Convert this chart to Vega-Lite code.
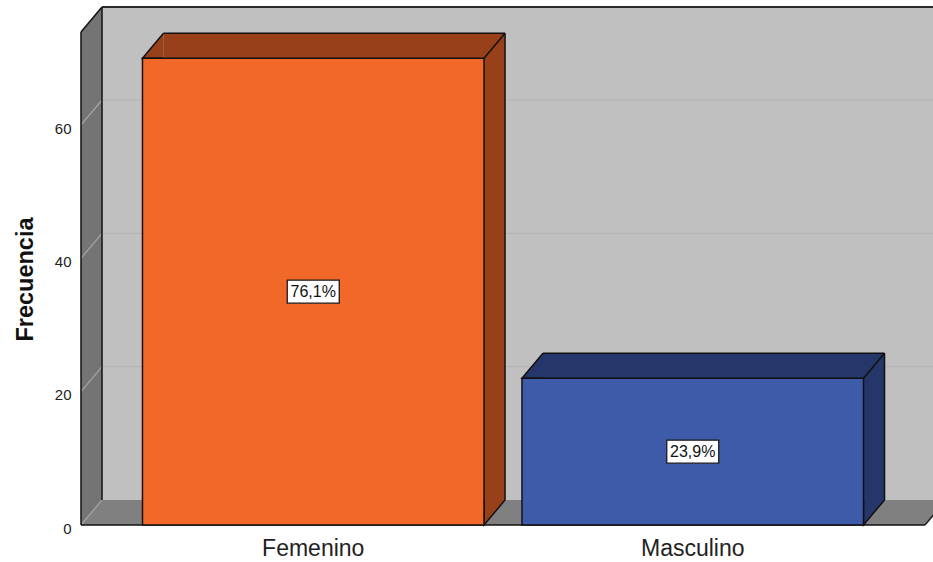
{
  "$schema": "https://vega.github.io/schema/vega-lite/v6.json",
  "width": 844,
  "height": 518,
  "autosize": {"type": "none"},
  "padding": {"left": 81, "top": 7, "right": 8, "bottom": 37},
  "background": "white",
  "config": {
    "font": "Liberation Sans",
    "view": {"stroke": null},
    "locale": {"number": {"decimal": ",", "thousands": ".", "grouping": [3], "currency": ["", " €"]}}
  },
  "datasets": {
    "frecuencias": [
      {"sexo": "Femenino", "n": 70, "porcentaje": 0.761},
      {"sexo": "Masculino", "n": 22, "porcentaje": 0.239}
    ],
    "marcas": [{"v": 0}, {"v": 20}, {"v": 40}, {"v": 60}],
    "uno": [{}]
  },
  "layer": [
    {
      "layer": [
        {
          "data": {"name": "frecuencias"},
          "mark": {"type": "bar", "opacity": 0},
          "encoding": {
            "x": {
              "field": "sexo",
              "type": "nominal",
              "scale": {"paddingInner": 0.1, "paddingOuter": 0.162},
              "axis": {"title": null, "domain": false, "ticks": false, "tickSize": 0, "labelPadding": 12, "labelFontSize": 23, "labelColor": "#222222", "labelAngle": 0}
            },
            "y": {
              "field": "n",
              "type": "quantitative",
              "scale": {"domain": [0, 77.7], "nice": false, "zero": true},
              "axis": {"title": "Frecuencia", "values": [0, 20, 40, 60], "grid": false, "domain": false, "ticks": false, "tickSize": 0, "labelPadding": 10, "labelOffset": 3, "labelFontSize": 15, "labelColor": "#222222", "titleFontSize": 23.5, "titleFontWeight": "bold", "titleColor": "#111111", "titleX": -49, "titleY": 272, "titleAngle": -90, "titleAlign": "center", "titleBaseline": "alphabetic"}
            }
          }
        },
        {
          "data": {"name": "uno"},
          "mark": {"type": "rect", "fill": "#747474"},
          "encoding": {
            "x": {"value": 0},
            "x2": {"value": "width"},
            "y": {"datum": 0, "type": "quantitative"},
            "y2": {"datum": 73.95}
          }
        },
        {
          "data": {"name": "uno"},
          "mark": {"type": "point", "shape": "M0,0L21,0L21,-25Z", "size": 4, "filled": true, "fill": "#747474", "strokeWidth": 0, "opacity": 1},
          "encoding": {
            "x": {"value": 0},
            "y": {"datum": 73.95, "type": "quantitative"}
          }
        },
        {
          "data": {"name": "uno"},
          "mark": {"type": "rect", "fill": "#c0c0c0", "xOffset": 21, "x2Offset": 21, "yOffset": -25, "y2Offset": -25},
          "encoding": {
            "x": {"value": 0},
            "x2": {"value": "width"},
            "y": {"datum": 0, "type": "quantitative"},
            "y2": {"datum": 73.95}
          }
        },
        {
          "data": {"name": "uno"},
          "mark": {"type": "rect", "fill": "#808080", "y2Offset": -25},
          "encoding": {
            "x": {"value": 0},
            "x2": {"value": "width"},
            "y": {"datum": 0, "type": "quantitative"},
            "y2": {"datum": 0}
          }
        },
        {
          "data": {"name": "uno"},
          "mark": {"type": "point", "shape": "M0,0L0,-25L21,-25Z", "size": 4, "filled": true, "fill": "#747474", "strokeWidth": 0, "opacity": 1},
          "encoding": {
            "x": {"value": 0},
            "y": {"datum": 0, "type": "quantitative"}
          }
        },
        {
          "data": {"name": "uno"},
          "mark": {"type": "point", "shape": "M0,0L0,-25L21,-25Z", "size": 4, "filled": true, "fill": "#808080", "strokeWidth": 0, "opacity": 1},
          "encoding": {
            "x": {"value": "width"},
            "y": {"datum": 0, "type": "quantitative"}
          }
        },
        {
          "data": {"name": "marcas"},
          "transform": [{"filter": "datum.v > 0"}],
          "mark": {"type": "rule", "stroke": "#b3b3b3", "strokeWidth": 1, "xOffset": 21, "x2Offset": 21, "yOffset": -25, "y2Offset": -25},
          "encoding": {
            "x": {"value": 0},
            "x2": {"value": "width"},
            "y": {"field": "v", "type": "quantitative"},
            "y2": {"field": "v"}
          }
        },
        {
          "data": {"name": "marcas"},
          "mark": {"type": "point", "shape": "M0,0L21,-25", "size": 4, "filled": false, "stroke": "#a6a6a6", "strokeWidth": 1.2, "opacity": 1},
          "encoding": {
            "x": {"value": 0},
            "y": {"field": "v", "type": "quantitative"}
          }
        },
        {
          "data": {"name": "uno"},
          "mark": {"type": "rule", "stroke": "#111111", "strokeWidth": 1.5},
          "encoding": {
            "x": {"value": 0},
            "y": {"datum": 0, "type": "quantitative"},
            "y2": {"datum": 73.95}
          }
        },
        {
          "data": {"name": "uno"},
          "mark": {"type": "rule", "stroke": "#111111", "strokeWidth": 1.5, "xOffset": 21, "yOffset": -25, "y2Offset": -25},
          "encoding": {
            "x": {"value": 0},
            "y": {"datum": 0, "type": "quantitative"},
            "y2": {"datum": 73.95}
          }
        },
        {
          "data": {"name": "uno"},
          "mark": {"type": "rule", "stroke": "#2a2a2a", "strokeWidth": 2, "xOffset": 21, "x2Offset": 21, "yOffset": -25, "y2Offset": -25},
          "encoding": {
            "x": {"value": 0},
            "x2": {"value": "width"},
            "y": {"datum": 73.95, "type": "quantitative"},
            "y2": {"datum": 73.95}
          }
        },
        {
          "data": {"name": "uno"},
          "mark": {"type": "point", "shape": "M0,0L21,-25", "size": 4, "filled": false, "stroke": "#111111", "strokeWidth": 1.5, "opacity": 1},
          "encoding": {
            "x": {"value": 0},
            "y": {"datum": 73.95, "type": "quantitative"}
          }
        },
        {
          "data": {"name": "uno"},
          "mark": {"type": "rule", "stroke": "#111111", "strokeWidth": 1.5},
          "encoding": {
            "x": {"value": 0},
            "x2": {"value": "width"},
            "y": {"datum": 0, "type": "quantitative"},
            "y2": {"datum": 0}
          }
        },
        {
          "data": {"name": "uno"},
          "mark": {"type": "point", "shape": "M0,0L21,-25", "size": 4, "filled": false, "stroke": "#222222", "strokeWidth": 1.5, "opacity": 1},
          "encoding": {
            "x": {"value": "width"},
            "y": {"datum": 0, "type": "quantitative"}
          }
        },
        {
          "data": {"name": "frecuencias"},
          "mark": {"type": "bar", "xOffset": 21, "yOffset": -25, "y2Offset": -25},
          "encoding": {
            "x": {"field": "sexo", "type": "nominal"},
            "y": {"field": "n", "type": "quantitative"},
            "y2": {"datum": 0},
            "color": {"field": "sexo", "type": "nominal", "legend": null, "scale": {"domain": ["Femenino", "Masculino"], "range": ["#984019", "#25366a"]}}
          }
        },
        {
          "data": {"name": "frecuencias"},
          "mark": {"type": "point", "shape": "M21,-25L0,0L21,0", "size": 4, "filled": true, "stroke": "#111111", "strokeWidth": 1.5, "opacity": 1},
          "encoding": {
            "x": {"field": "sexo", "type": "nominal", "bandPosition": 0},
            "y": {"field": "n", "type": "quantitative"},
            "color": {"field": "sexo", "type": "nominal", "legend": null, "scale": {"domain": ["Femenino", "Masculino"], "range": ["#984019", "#25366a"]}}
          }
        },
        {
          "data": {"name": "frecuencias"},
          "mark": {"type": "point", "shape": "M0,-25L0,0L21,-25", "size": 4, "filled": true, "stroke": "#111111", "strokeWidth": 1.5, "opacity": 1},
          "encoding": {
            "x": {"field": "sexo", "type": "nominal", "bandPosition": 1},
            "y": {"datum": 0, "type": "quantitative"},
            "color": {"field": "sexo", "type": "nominal", "legend": null, "scale": {"domain": ["Femenino", "Masculino"], "range": ["#984019", "#25366a"]}}
          }
        },
        {
          "data": {"name": "frecuencias"},
          "mark": {"type": "bar", "stroke": "#111111", "strokeWidth": 1.5},
          "encoding": {
            "x": {"field": "sexo", "type": "nominal"},
            "y": {"field": "n", "type": "quantitative"},
            "fill": {"field": "sexo", "type": "nominal", "legend": null, "scale": {"domain": ["Femenino", "Masculino"], "range": ["#f26829", "#3e5ba9"]}}
          }
        },
        {
          "data": {"name": "frecuencias"},
          "mark": {"type": "bar", "fillOpacity": 0, "stroke": "#111111", "strokeWidth": 1.5, "xOffset": 21, "yOffset": -25, "y2Offset": -25},
          "encoding": {
            "x": {"field": "sexo", "type": "nominal"},
            "y": {"field": "n", "type": "quantitative"},
            "y2": {"field": "n"}
          }
        },
        {
          "data": {"name": "frecuencias"},
          "mark": {"type": "rule", "stroke": "#111111", "strokeWidth": 1.5, "xOffset": 21, "yOffset": -25, "y2Offset": -25},
          "encoding": {
            "x": {"field": "sexo", "type": "nominal", "bandPosition": 1},
            "y": {"field": "n", "type": "quantitative"},
            "y2": {"datum": 0}
          }
        },
        {
          "data": {"name": "frecuencias"},
          "mark": {"type": "point", "shape": "M0,0L21,-25", "size": 4, "filled": false, "stroke": "#111111", "strokeWidth": 1.5, "opacity": 1},
          "encoding": {
            "x": {"field": "sexo", "type": "nominal", "bandPosition": 1},
            "y": {"field": "n", "type": "quantitative"}
          }
        }
      ]
    },
    {
      "data": {"name": "frecuencias"},
      "layer": [
        {
          "mark": {"type": "point", "shape": "M-26,-11.5L26,-11.5L26,11.5L-26,11.5Z", "size": 4, "filled": true, "fill": "white", "stroke": "#1a1a1a", "strokeWidth": 1.3, "opacity": 1},
          "encoding": {
            "x": {"field": "sexo", "type": "nominal"},
            "y": {"field": "n", "type": "quantitative", "axis": null, "scale": {"domain": [0, 155.4], "nice": false, "zero": true}}
          }
        },
        {
          "mark": {"type": "text", "fontSize": 16, "color": "#111111", "align": "center", "baseline": "middle"},
          "encoding": {
            "x": {"field": "sexo", "type": "nominal"},
            "y": {"field": "n", "type": "quantitative", "axis": null},
            "text": {"field": "porcentaje", "type": "quantitative", "format": ".1%"}
          }
        }
      ]
    }
  ],
  "resolve": {"scale": {"y": "independent"}}
}
